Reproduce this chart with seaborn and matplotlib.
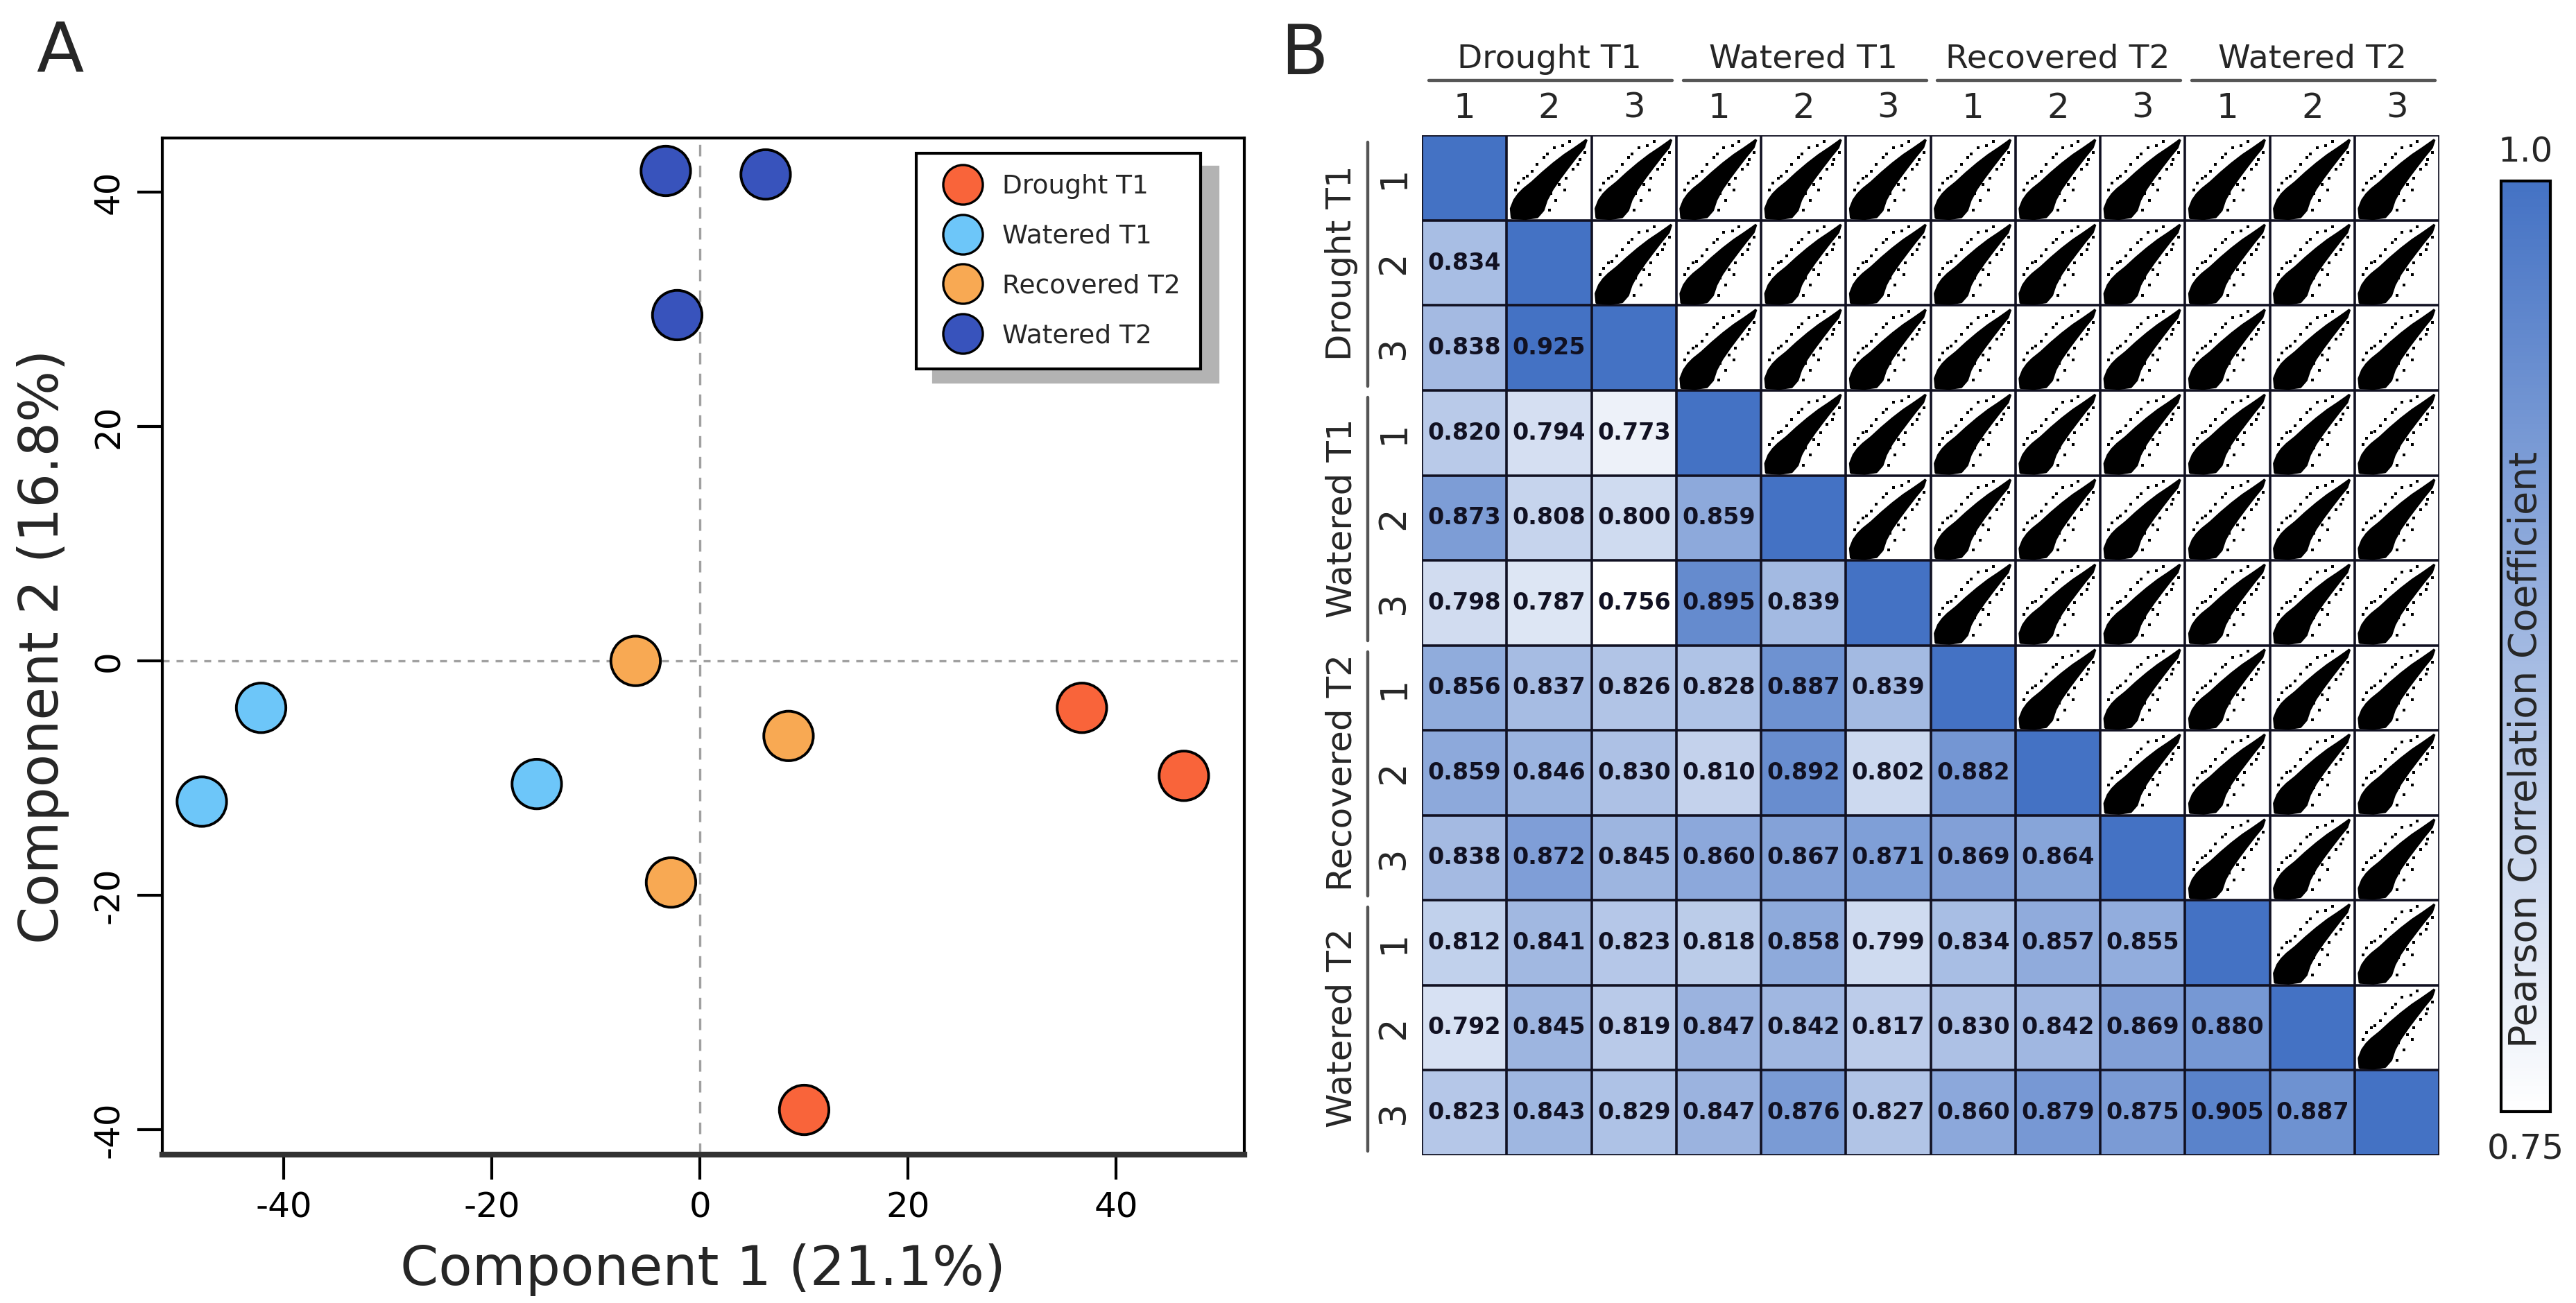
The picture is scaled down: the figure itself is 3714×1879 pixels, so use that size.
import numpy as np
import pandas as pd
import matplotlib
matplotlib.use("Agg")
import matplotlib.pyplot as plt
import seaborn as sns
from matplotlib.colors import LinearSegmentedColormap
import matplotlib.transforms as mtrans

# ---------------- data ----------------
groups = ["Drought T1", "Watered T1", "Recovered T2", "Watered T2"]
group_colors = ["#F9643A", "#6DC6F9", "#F8A953", "#3853BC"]

pc1_drought = [36.7, 46.5, 10.0]
pc2_drought = [-4.0, -9.8, -38.3]
pc1_wat1 = [-42.2, -47.9, -15.7]
pc2_wat1 = [-4.0, -12.0, -10.5]
pc1_rec2 = [-6.2, 8.5, -2.8]
pc2_rec2 = [0.0, -6.4, -18.9]
pc1_wat2 = [-3.3, 6.3, -2.2]
pc2_wat2 = [41.8, 41.5, 29.5]

xlabel = "Component 1 (21.1%)"
ylabel = "Component 2 (16.8%)"
ticks = [-40, -20, 0, 20, 40]

replicates = ["1", "2", "3"]
corr_rows = [
    [],
    [0.834],
    [0.838, 0.925],
    [0.820, 0.794, 0.773],
    [0.873, 0.808, 0.800, 0.859],
    [0.798, 0.787, 0.756, 0.895, 0.839],
    [0.856, 0.837, 0.826, 0.828, 0.887, 0.839],
    [0.859, 0.846, 0.830, 0.810, 0.892, 0.802, 0.882],
    [0.838, 0.872, 0.845, 0.860, 0.867, 0.871, 0.869, 0.864],
    [0.812, 0.841, 0.823, 0.818, 0.858, 0.799, 0.834, 0.857, 0.855],
    [0.792, 0.845, 0.819, 0.847, 0.842, 0.817, 0.830, 0.842, 0.869, 0.880],
    [0.823, 0.843, 0.829, 0.847, 0.876, 0.827, 0.860, 0.879, 0.875, 0.905, 0.887],
]
cbar_top_label = "1.0"
cbar_bottom_label = "0.75"
cbar_title = "Pearson Correlation Coefficient"

# outline of the scatter cloud drawn in each upper cell (cell fractions)
cloud_x = [0.06, 0.05, 0.09, 0.14, 0.20, 0.30, 0.42, 0.55, 0.68, 0.80, 0.90, 0.94,
           0.91, 0.82, 0.72, 0.63, 0.54, 0.47, 0.43, 0.36, 0.22]
cloud_y = [0.03, 0.14, 0.24, 0.31, 0.37, 0.45, 0.56, 0.67, 0.77, 0.85, 0.92, 0.95,
           0.86, 0.75, 0.62, 0.50, 0.37, 0.24, 0.12, 0.04, 0.02]
outlier_x = [0.30, 0.36, 0.52, 0.62, 0.24, 0.78, 0.56, 0.14, 0.70, 0.44, 0.58, 0.86,
             0.10, 0.50, 0.66, 0.40, 0.20, 0.48, 0.74, 0.84, 0.28, 0.60, 0.68, 0.92, 0.16]
outlier_y = [0.58, 0.66, 0.32, 0.42, 0.52, 0.60, 0.86, 0.44, 0.50, 0.74, 0.24, 0.72,
             0.36, 0.12, 0.88, 0.30, 0.50, 0.78, 0.93, 0.66, 0.14, 0.58, 0.36, 0.80, 0.10]

# ---------------- fonts ----------------
sns.set_theme(style="white")
plt.rcParams["font.family"] = ["DejaVu Sans"]

fig = plt.figure(figsize=(18.57, 9.395), dpi=200)

# ---------------- panel A: PCA ----------------
axA = fig.add_axes([0.063, 0.114, 0.42, 0.78])
df = pd.DataFrame({
    "group": [groups[0]] * 3 + [groups[1]] * 3 + [groups[2]] * 3 + [groups[3]] * 3,
    "pc1": pc1_drought + pc1_wat1 + pc1_rec2 + pc1_wat2,
    "pc2": pc2_drought + pc2_wat1 + pc2_rec2 + pc2_wat2,
})
axA.axhline(0, color="#a0a0a0", lw=1.2, ls=(0, (3, 3)), zorder=0)
axA.axvline(0, color="#a0a0a0", lw=1.2, ls=(0, (5, 4)), zorder=0)
sns.scatterplot(data=df, x="pc1", y="pc2", hue="group", hue_order=groups,
                palette=dict(zip(groups, group_colors)), s=660,
                edgecolor="black", linewidth=1.4, ax=axA, zorder=3)
axA.set_xlim(-51.7, 52.3)
axA.set_ylim(-42.1, 44.6)
axA.set_xticks(ticks)
axA.set_yticks(ticks)
axA.set_xticklabels([str(t) for t in ticks])
axA.set_yticklabels([str(t) for t in ticks])
axA.tick_params(axis="both", direction="out", length=13, width=1.5, labelsize=18,
                pad=6, colors="black", bottom=True, left=True)
plt.setp(axA.get_yticklabels(), rotation=90, va="center")
axA.set_xlabel(xlabel, fontsize=28.5, labelpad=10)
axA.set_ylabel(ylabel, fontsize=28, labelpad=12)
for side in ["left", "top", "right"]:
    axA.spines[side].set_color("black")
    axA.spines[side].set_linewidth(1.5)
axA.spines["bottom"].set_color("#333333")
axA.spines["bottom"].set_linewidth(3)

handles, labels = axA.get_legend_handles_labels()
leg = axA.legend(handles, labels, loc="upper right", bbox_to_anchor=(0.96, 0.985),
                 fontsize=13.5, markerscale=0.8, frameon=True, fancybox=False,
                 shadow={"color": "#b3b3b3", "alpha": 1, "ox": 9, "oy": -7},
                 edgecolor="black", borderpad=0.8, labelspacing=0.95,
                 handletextpad=0.5, borderaxespad=0)
leg.get_frame().set_linewidth(1.5)
for h in leg.legend_handles:
    h.set_markeredgecolor("black")
    h.set_markeredgewidth(1.2)

fig.text(0.014, 0.945, "A", fontsize=36, ha="left", va="baseline")
fig.text(0.497, 0.943, "B", fontsize=36, ha="left", va="baseline")

# ---------------- panel B: correlation matrix ----------------
n = len(corr_rows)
mat = np.full((n, n), np.nan)
annot = np.full((n, n), "", dtype=object)
for i, row in enumerate(corr_rows):
    for j, v in enumerate(row):
        mat[i, j] = v
        annot[i, j] = f"{v:.3f}"
    mat[i, i] = 1.0
off = [v for r in corr_rows for v in r]
vmin, vmax = min(off), max(off)
mask = np.triu(np.ones((n, n), dtype=bool), k=1)
cmap = LinearSegmentedColormap.from_list("wb", ["#FFFFFF", "#4472C4"])

axB = fig.add_axes([0.552, 0.1135, 0.395, 0.7825])
cax = fig.add_axes([0.971, 0.147, 0.019, 0.714])
sns.heatmap(mat, mask=mask, cmap=cmap, vmin=vmin, vmax=vmax, annot=annot, fmt="",
            annot_kws={"fontsize": 12, "fontweight": "bold", "color": "#111122"},
            cbar=True, cbar_ax=cax, ax=axB, xticklabels=False, yticklabels=False)
axB.set_facecolor("white")
axB.hlines(np.arange(n + 1), 0, n, color="#111122", lw=1.3)
axB.vlines(np.arange(n + 1), 0, n, color="#111122", lw=1.3)

cx = np.array(cloud_x)
cy = np.array(cloud_y)
ox = np.array(outlier_x)
oy = np.array(outlier_y)
for i in range(n):
    for j in range(i + 1, n):
        axB.fill(j + cx, i + 1 - cy, facecolor="black", lw=1.2, edgecolor="black",
                 joinstyle="bevel", zorder=3)
        axB.scatter(j + ox, i + 1 - oy, s=2.2, marker="s", color="black", lw=0, zorder=3)

axB.set_xlim(0, n)
axB.set_ylim(n, 0)
for s in axB.spines.values():
    s.set_visible(False)

tx = mtrans.blended_transform_factory(axB.transData, axB.transAxes)
ty = mtrans.blended_transform_factory(axB.transAxes, axB.transData)
for g, name in enumerate(groups):
    c0 = 3 * g
    axB.text(c0 + 1.5, 1.075, name, transform=tx, ha="center", va="center",
             fontsize=17, clip_on=False)
    axB.plot([c0 + 0.08, c0 + 2.95], [1.054, 1.054], transform=tx, color="#555555",
             lw=1.6, clip_on=False)
    for k, r in enumerate(replicates):
        axB.text(c0 + k + 0.5, 1.027, r, transform=tx, ha="center", va="center",
                 fontsize=18, clip_on=False)
    # row labels
    axB.text(-0.079, c0 + 1.5, name, transform=ty, ha="center", va="center",
             rotation=90, fontsize=18, clip_on=False)
    axB.plot([-0.053, -0.053], [c0 + 0.08, c0 + 2.95], transform=ty, color="#555555",
             lw=1.6, clip_on=False)
    for k, r in enumerate(replicates):
        axB.text(-0.028, c0 + k + 0.5, r, transform=ty, ha="center", va="center",
                 rotation=90, fontsize=19, clip_on=False)

cax.set_yticks([])
cax.set_xticks([])
cbar = axB.collections[0].colorbar
cbar.outline.set_edgecolor("black")
cbar.outline.set_linewidth(1.5)
cbar.set_ticks([])
fig.text(0.9805, 0.883, cbar_top_label, ha="center", va="center", fontsize=18)
fig.text(0.9805, 0.118, cbar_bottom_label, ha="center", va="center", fontsize=18)
fig.text(0.9805, 0.4245, cbar_title, ha="center", va="center", rotation=90, fontsize=20)

fig.savefig("out.png", dpi=200, facecolor="white")
